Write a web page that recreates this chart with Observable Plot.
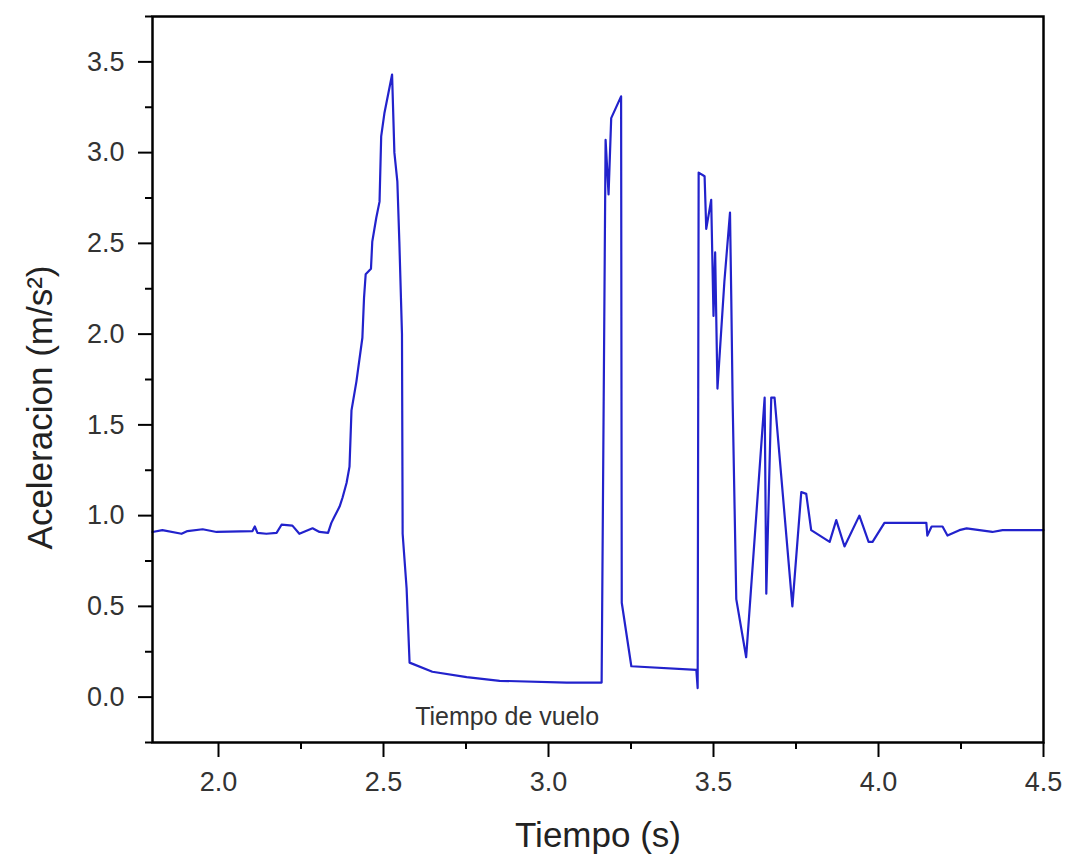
<!DOCTYPE html>
<html>
<head>
<meta charset="utf-8">
<script src="https://cdn.jsdelivr.net/npm/d3@7"></script>
<script src="https://cdn.jsdelivr.net/npm/@observablehq/plot@0.6"></script>
<style>
  html, body { margin: 0; padding: 0; background: #fff; }
  #chart svg [aria-label="x-axis tick label"] text,
  #chart svg [aria-label="y-axis tick label"] text { fill: #333; }
</style>
</head>
<body>
<div id="chart"></div>
<script>
// Time (s)
const tiempo = [
  1.80, 1.83, 1.888, 1.906, 1.952, 1.994, 2.103, 2.110, 2.118, 2.145,
  2.176, 2.191, 2.224, 2.245, 2.285, 2.306, 2.332, 2.342, 2.350, 2.367,
  2.376, 2.388, 2.397, 2.403, 2.418, 2.436, 2.441, 2.446, 2.462, 2.466,
  2.478, 2.488, 2.493, 2.503, 2.526, 2.533, 2.542, 2.548, 2.556, 2.558,
  2.570, 2.579, 2.648, 2.752, 2.852, 3.055, 3.161, 3.173, 3.182, 3.190,
  3.220, 3.222, 3.251, 3.448, 3.452, 3.455, 3.473, 3.478, 3.493, 3.500,
  3.505, 3.512, 3.533, 3.550, 3.554, 3.558, 3.569, 3.599, 3.655, 3.660,
  3.675, 3.685, 3.739, 3.766, 3.781, 3.796, 3.852, 3.872, 3.897, 3.942,
  3.970, 3.982, 4.018, 4.145, 4.148, 4.161, 4.194, 4.209, 4.245, 4.267,
  4.345, 4.376, 4.500
];
// Acceleration (m/s^2)
const aceleracion = [
  0.91, 0.92, 0.90, 0.915, 0.925, 0.91, 0.915, 0.94, 0.905, 0.90,
  0.905, 0.95, 0.945, 0.90, 0.93, 0.91, 0.905, 0.96, 0.99, 1.05,
  1.10, 1.18, 1.27, 1.58, 1.74, 1.98, 2.20, 2.33, 2.36, 2.51,
  2.64, 2.73, 3.09, 3.22, 3.43, 3.00, 2.84, 2.51, 2.00, 0.90,
  0.60, 0.19, 0.14, 0.11, 0.09, 0.08, 0.08, 3.07, 2.77, 3.19,
  3.31, 0.52, 0.17, 0.15, 0.05, 2.89, 2.87, 2.58, 2.74, 2.10,
  2.45, 1.70, 2.29, 2.67, 2.18, 1.63, 0.54, 0.22, 1.65, 0.57,
  1.65, 1.65, 0.50, 1.13, 1.12, 0.92, 0.855, 0.975, 0.83, 1.00,
  0.855, 0.855, 0.96, 0.96, 0.89, 0.94, 0.94, 0.89, 0.92, 0.93,
  0.91, 0.92, 0.92
];

const xMajor = [2.0, 2.5, 3.0, 3.5, 4.0, 4.5];
const xMinor = [2.25, 2.75, 3.25, 3.75, 4.25];
const yMajor = [0.0, 0.5, 1.0, 1.5, 2.0, 2.5, 3.0, 3.5];
const yMinor = [-0.25, 0.25, 0.75, 1.25, 1.75, 2.25, 2.75, 3.25, 3.75];
const xDomain = [1.8, 4.5];
const yDomain = [-0.25, 3.75];

const xTitle = "Tiempo (s)";
const yTitle = "Aceleracion (m/s²)";
const annotation = {text: "Tiempo de vuelo", t: 2.596, a: -0.11};

const rows = tiempo.map((t, i) => ({t, a: aceleracion[i]}));
const fmt = d3.format(".1f");

const chart = Plot.plot({
  width: 1068,
  height: 861,
  marginLeft: 152,
  marginRight: 25,
  marginTop: 16,
  marginBottom: 119,
  style: {fontFamily: "'Liberation Sans', Arial, Helvetica, sans-serif", background: "#fff", color: "#000"},
  x: {domain: xDomain},
  y: {domain: yDomain},
  marks: [
    Plot.line(rows, {x: "t", y: "a", stroke: "#2222cc", strokeWidth: 2.2, strokeLinejoin: "round"}),
    Plot.axisX(xMajor, {tickSize: 15, tickPadding: 14, strokeWidth: 2, fontSize: 27, tickFormat: fmt, label: null}),
    Plot.axisX(xMinor, {tickSize: 7, strokeWidth: 2, tickFormat: () => "", label: null}),
    Plot.axisY(yMajor, {tickSize: 14, tickPadding: 14, strokeWidth: 2, fontSize: 27, tickFormat: fmt, label: null}),
    Plot.axisY(yMinor, {tickSize: 7, strokeWidth: 2, tickFormat: () => "", label: null}),
    Plot.frame({stroke: "#000", strokeWidth: 2.5}),
    Plot.text([annotation], {x: "t", y: "a", text: "text", textAnchor: "start", fontSize: 25, fill: "#333"}),
    Plot.text([xTitle], {frameAnchor: "bottom", textAnchor: "middle", dy: 104, fontSize: 35, fill: "#222"}),
    Plot.text([yTitle], {frameAnchor: "left", textAnchor: "middle", dx: -112, dy: 28, rotate: -90, fontSize: 35, fill: "#222"})
  ]
});

document.getElementById("chart").appendChild(chart);
</script>
</body>
</html>
